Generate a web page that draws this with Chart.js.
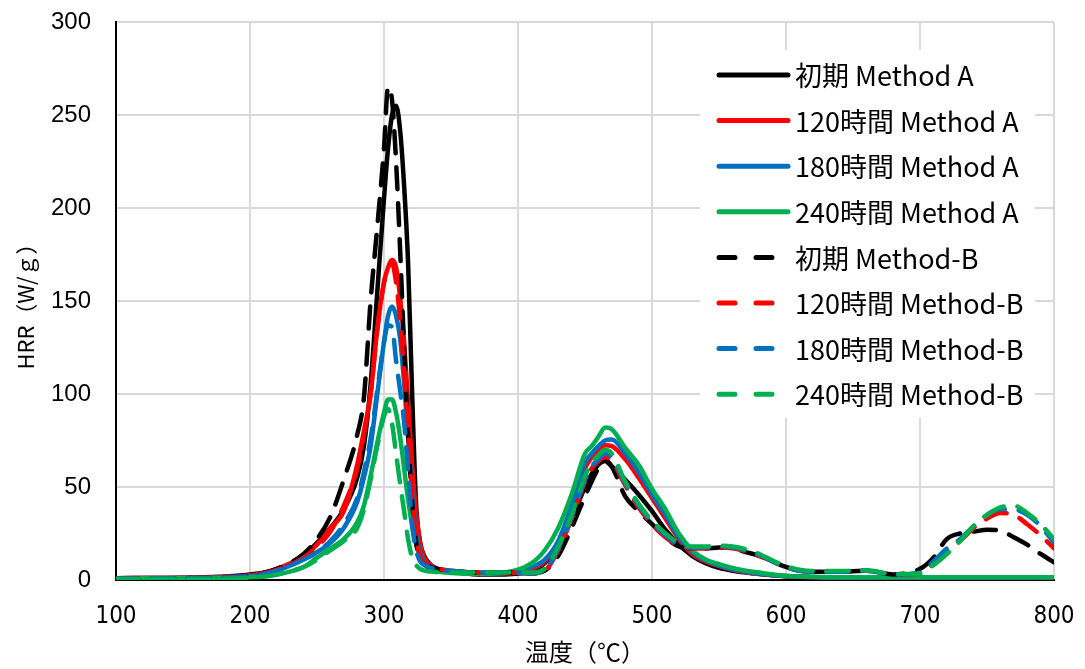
<!DOCTYPE html>
<html>
<head>
<meta charset="utf-8">
<script src="https://cdn.jsdelivr.net/npm/chart.js@4/dist/chart.umd.min.js"></script>
<style>
body{margin:0;background:#fff;}
</style>
</head>
<body>
<canvas id="hrrChart" width="1085" height="669"></canvas>
<script>
// temperature grid shared by every series (°C)
const temps=[100,150,200,220,240,250,260,270,280,285,290,295,300,303,306,309,312,315,318,321,324,327,330,335,340,350,370,390,410,420,430,440,450,455,460,465,470,480,490,500,510,520,530,540,550,560,570,580,590,600,610,620,640,660,680,700,710,720,730,740,750,760,770,780,790,800];

// Method A, HRR (W/g)
const initA=[1,1.2,3,5.5,13,20,28,38,55,72,105,155,205,232,250,255,242,212,170,100,40,20,13,8,6,4.5,3,3,5,9,19,33,50,57,62,64,61,54,46,37,27,19,13,9,6.5,5,4,3.2,2.5,2,1.7,1.5,1.3,1.2,1.2,1.2,1.2,1.2,1.2,1.2,1.2,1.2,1.2,1.2,1.2,1.2];
const h120A=[1,1.2,2.5,6,13,19,28,37,62,80,100,135,160,168,172,168,152,128,95,62,36,20,12,8,6,4.5,3.5,3.5,6,10,20,38,60,66,70,72.5,72,65,55,44,33,22,14,10,7.5,5.5,4.2,3.3,2.6,2,1.7,1.5,1.3,1.2,1.2,1.2,1.2,1.2,1.2,1.2,1.2,1.2,1.2,1.2,1.2,1.2];
const h180A=[1,1.1,2,5,11,15,20,28,42,55,72,100,128,142,147,142,130,106,76,48,25,15,10,7,5.5,4.5,3.5,3.8,7,11,21,40,63,68,72,75,75.5,68,58,46,35,23,15,10.5,7.8,5.8,4.4,3.4,2.7,2.1,1.8,1.6,1.3,1.3,1.3,1.3,1.3,1.3,1.3,1.3,1.3,1.3,1.3,1.3,1.3,1.3];
const h240A=[1,1,1.5,3,7,12,17,22,31,40,56,74,90,97,97,90,77,60,43,29,19,12.5,8.5,5.5,4.5,3.8,3.3,4,9,16,28,46,68,72,77,82,81,71,62,49,38,25,16,11,8.5,6.5,5,4,3,2.3,1.9,1.7,1.5,1.5,1.5,1.5,1.5,1.5,1.5,1.5,1.5,1.5,1.5,1.5,1.5,1.5];

// Method-B, HRR (W/g)
const initB=[0.8,1,2.5,6,14,22,34,54,78,98,150,190,232,265,258,225,178,125,78,42,20,12,9,7,6,5,4,4,3.5,5,13,28,45,53,60,64.5,61,45,37,30,23,18,17,17,17.5,17,15,13,10,7,5,4.5,4.5,5,3,6,12,22,25,26,27,26.5,23,19,14,9.5];
const h120B=[0.8,1,2.3,5.5,12,18,26,40,60,78,100,135,160,168,170,160,140,112,80,45,22,13,9,7,6,5,4,4,3.5,5,16,33,53,60,64,66,64,51,39,30,23,18.5,17,17,17.5,17,15.5,13,10,7,5,4.5,4.5,5,3,3.5,9,15,21,28,33,36,35,30,24,17];
const h180B=[0.8,1,2,5,11,15,21,30,44,58,76,102,128,137,136,118,102,85,58,30,16,10,8,6.5,5.5,5,4,4,3.5,5.5,17,34,54,61,65,68,66,52,40,31,24,19,17.5,17.5,18,17.5,16,13.5,10,7,5,4.5,4.5,5,3,4,10,17,22,29,35,38,38,35,29,20];
const h240B=[0.5,0.5,1.2,3,7,11,16,21,28,38,54,72,88,92,84,68,52,37,22,12,8,6,5,4.5,4.2,4,4,4,4,6,18,35,56,63,67,70,68,53,41,32,25,20,18,18,18.5,18,16.5,14,10.5,7.5,5.5,4.8,4.8,5.2,3.2,3.5,8,14,21,29,35,39,40,36,30,22];

const seriesLabels=["初期 Method A","120時間 Method A","180時間 Method A","240時間 Method A","初期 Method-B","120時間 Method-B","180時間 Method-B","240時間 Method-B"];
const seriesValues=[initA,h120A,h180A,h240A,initB,h120B,h180B,h240B];
const seriesColors=["#000000","#ff0000","#0070c0","#00b050","#000000","#ff0000","#0070c0","#00b050"];
const seriesDashed=[false,false,false,false,true,true,true,true];

const datasets=seriesValues.map((vals,i)=>({
    label:seriesLabels[i],
    data:temps.map((t,j)=>({x:t,y:vals[j]})),
    borderColor:seriesColors[i],
    borderWidth:4.5,
    borderDash:seriesDashed[i]?[22,14]:[],
    borderCapStyle:"round",
    borderJoinStyle:"round",
    pointRadius:0,
    cubicInterpolationMode:"monotone",
    fill:false,
    // later series sit on top
    order:seriesValues.length-i
}));

// legend box drawn inside the plot, top right
const insideLegend={
    id:"insideLegend",
    beforeDatasetsDraw(chart){
        const ctx=chart.ctx;
        const area=chart.chartArea;
        const boxX=area.right-354;
        const boxY=area.top+28;
        ctx.save();
        ctx.fillStyle="#ffffff";
        ctx.fillRect(boxX,boxY,335,368);
        ctx.font="27px 'Noto Sans CJK JP'";
        ctx.textBaseline="middle";
        ctx.lineCap="round";
        seriesLabels.forEach((label,i)=>{
            const y=boxY+25+i*45.6;
            ctx.strokeStyle=seriesColors[i];
            ctx.lineWidth=5;
            ctx.setLineDash(seriesDashed[i]?[16,21]:[]);
            ctx.beginPath();
            ctx.moveTo(boxX+19,y);
            ctx.lineTo(boxX+88,y);
            ctx.stroke();
            ctx.fillStyle="#000";
            ctx.fillText(label,boxX+95,y+1);
        });
        ctx.restore();
    }
};

new Chart(document.getElementById("hrrChart"),{
    type:"line",
    data:{datasets},
    plugins:[insideLegend],
    options:{
        responsive:false,
        animation:false,
        layout:{
            padding:{top:22,right:31,left:0,bottom:0}
        },
        plugins:{
            legend:{display:false},
            tooltip:{enabled:false}
        },
        scales:{
            x:{
                type:"linear",
                min:100,
                max:800,
                afterFit(scale){scale.height=89;},
                ticks:{
                    stepSize:100,
                    padding:3,
                    color:"#000",
                    font:{family:"'Liberation Sans Narrow', 'DejaVu Sans Condensed'",size:24}
                },
                // invisible tick marks push the labels away from the axis
                grid:{color:"#d9d9d9",lineWidth:2,tickLength:19,tickColor:"rgba(0,0,0,0)"},
                border:{display:true,color:"#000",width:2},
                title:{
                    display:true,
                    text:"温度（℃）",
                    color:"#000",
                    padding:{top:0,bottom:3},
                    font:{family:"'Noto Sans CJK JP'",size:24}
                }
            },
            y:{
                min:0,
                max:300,
                afterFit(scale){scale.width=116;},
                ticks:{
                    stepSize:50,
                    padding:3,
                    color:"#000",
                    font:{family:"'Liberation Sans', Arial",size:24}
                },
                grid:{color:"#d9d9d9",lineWidth:2,tickLength:22,tickColor:"rgba(0,0,0,0)"},
                border:{display:true,color:"#000",width:2},
                title:{
                    display:true,
                    text:"HRR（W/ｇ）",
                    color:"#000",
                    padding:{top:12,bottom:0},
                    font:{family:"'Noto Sans CJK JP'",size:22}
                }
            }
        }
    }
});
</script>
</body>
</html>
